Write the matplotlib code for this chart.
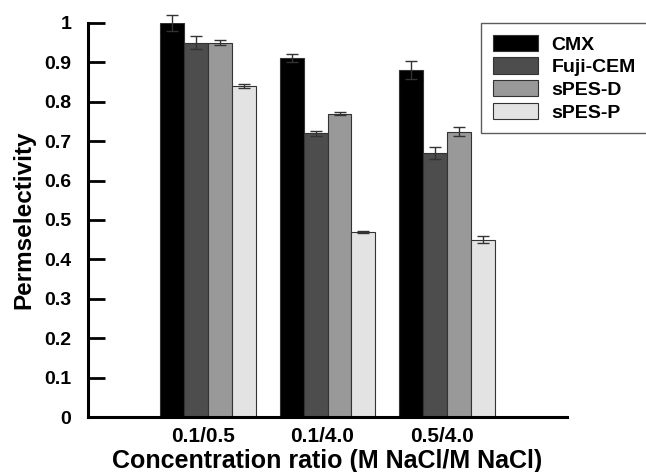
import numpy as np
import matplotlib
matplotlib.use('Agg')
import matplotlib.pyplot as plt
from matplotlib.transforms import ScaledTranslation

plt.rcParams['font.family'] = ['Liberation Sans', 'DejaVu Sans']
plt.rcParams['font.weight'] = 'bold'

ratios = ['0.1/0.5', '0.1/4.0', '0.5/4.0']
membranes = ['CMX', 'Fuji-CEM', 'sPES-D', 'sPES-P']
colors = ['#000000', '#4d4d4d', '#999999', '#e3e3e3']

cmx = [1.00, 0.91, 0.88]
cmx_err = [0.020, 0.010, 0.023]
fuji = [0.95, 0.72, 0.67]
fuji_err = [0.017, 0.006, 0.015]
spes_d = [0.95, 0.77, 0.724]
spes_d_err = [0.007, 0.003, 0.012]
spes_p = [0.84, 0.47, 0.45]
spes_p_err = [0.006, 0.002, 0.009]

values = [cmx, fuji, spes_d, spes_p]
errors = [cmx_err, fuji_err, spes_d_err, spes_p_err]

fig = plt.figure(figsize=(6.46, 4.72), dpi=100)
ax = fig.add_axes([0.136, 0.1165, 0.742, 0.835])

x = np.arange(len(ratios))
width = 0.2
for i, (name, vals, errs, col) in enumerate(zip(membranes, values, errors, colors)):
    pos = x + (i - 1.5) * width
    ax.bar(pos, vals, width, color=col, edgecolor='#333333', linewidth=0.8,
           label=name, zorder=2)
    ax.errorbar(pos, vals, yerr=errs, fmt='none', ecolor='#333333',
                elinewidth=1, capsize=4.5, capthick=1, clip_on=False, zorder=3)

ax.set_xlim(-1, 3)
ax.set_ylim(0, 1)
ax.set_yticks(np.arange(0, 1.01, 0.1))
ax.set_yticklabels(['0', '0.1', '0.2', '0.3', '0.4', '0.5', '0.6', '0.7', '0.8', '0.9', '1'])
ax.set_xticks(x)
ax.set_xticklabels(ratios)

ax.spines['top'].set_visible(False)
ax.spines['right'].set_visible(False)
ax.spines['left'].set_linewidth(2.2)
ax.spines['bottom'].set_linewidth(2.2)
ax.tick_params(axis='y', direction='in', length=12, width=2, pad=12, labelsize=14)
ax.tick_params(axis='x', length=0, pad=7, labelsize=15)

# tick labels sit a little left of the group centres in the original
shift = ScaledTranslation(-5 / 100, 0, fig.dpi_scale_trans)
for lab in ax.get_xticklabels():
    lab.set_transform(lab.get_transform() + shift)

ax.set_ylabel('Permselectivity', fontsize=17.5, fontweight='bold', labelpad=6)
ax.set_xlabel('Concentration ratio (M NaCl/M NaCl)', fontsize=18, fontweight='bold', labelpad=2)

# legend box runs off the right edge, as in the original
leg = ax.legend(loc='upper left', bbox_to_anchor=(0.745, 0.5, 0.3, 0.451), mode='expand',
                bbox_transform=fig.transFigure,
                fontsize=14, frameon=True, fancybox=False, handlelength=2.3, handleheight=0.9,
                labelspacing=0.2, handletextpad=0.7, borderpad=0.6, borderaxespad=0)
leg.get_frame().set_edgecolor('#333333')
leg.get_frame().set_linewidth(1)
for p in leg.get_patches():
    p.set_edgecolor('#333333')

fig.savefig('out.png', dpi=100)
